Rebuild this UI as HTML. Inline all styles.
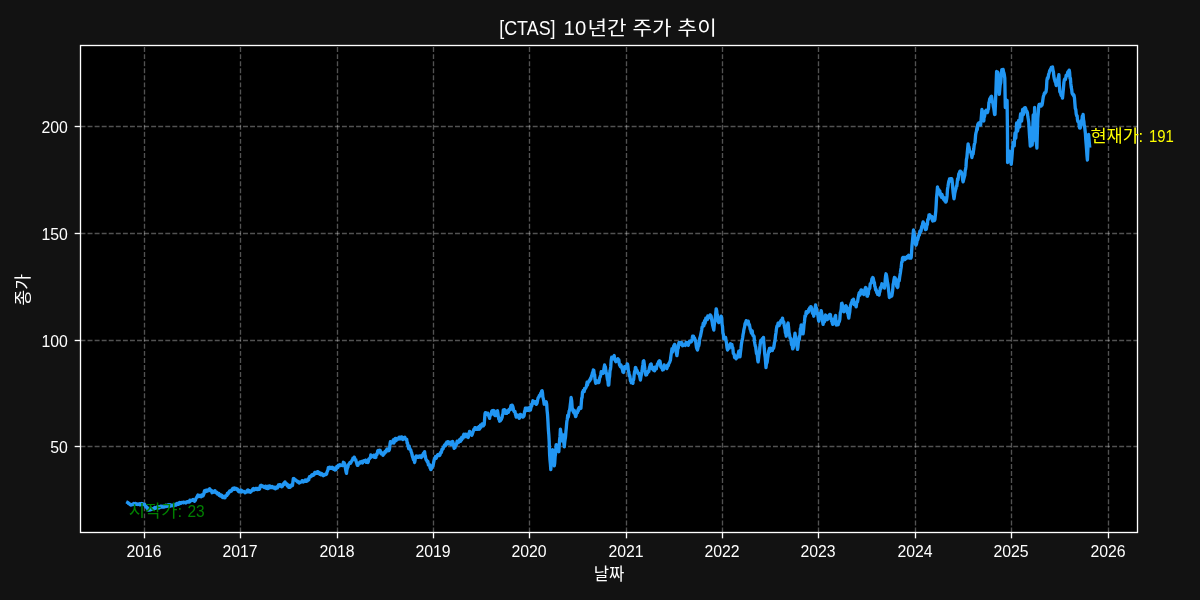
<!DOCTYPE html>
<html lang="ko"><head><meta charset="utf-8"><title>[CTAS] 10년간 주가 추이</title>
<style>html,body{margin:0;padding:0;background:#121212;overflow:hidden}svg{display:block}text{font-family:"Liberation Sans","Noto Sans CJK KR",sans-serif;}</style>
</head><body>
<svg width="1200" height="600" viewBox="0 0 1200 600">
<rect x="0" y="0" width="1200" height="600" fill="#121212"/>
<rect x="80.5" y="45.5" width="1057.0" height="487.0" fill="#000"/>
<g stroke="#fff" stroke-opacity="0.32" stroke-width="1.333" stroke-dasharray="4.933 2.133" fill="none">
<line x1="144.50" y1="532.5" x2="144.50" y2="45.5"/>
<line x1="240.50" y1="532.5" x2="240.50" y2="45.5"/>
<line x1="337.50" y1="532.5" x2="337.50" y2="45.5"/>
<line x1="433.50" y1="532.5" x2="433.50" y2="45.5"/>
<line x1="529.50" y1="532.5" x2="529.50" y2="45.5"/>
<line x1="626.50" y1="532.5" x2="626.50" y2="45.5"/>
<line x1="722.50" y1="532.5" x2="722.50" y2="45.5"/>
<line x1="818.50" y1="532.5" x2="818.50" y2="45.5"/>
<line x1="915.50" y1="532.5" x2="915.50" y2="45.5"/>
<line x1="1011.50" y1="532.5" x2="1011.50" y2="45.5"/>
<line x1="1108.50" y1="532.5" x2="1108.50" y2="45.5"/>
<line x1="80.5" y1="446.50" x2="1137.5" y2="446.50"/>
<line x1="80.5" y1="340.50" x2="1137.5" y2="340.50"/>
<line x1="80.5" y1="233.50" x2="1137.5" y2="233.50"/>
<line x1="80.5" y1="126.50" x2="1137.5" y2="126.50"/>
</g>
<path d="M127.7,502.5 L128.1,502.7 L128.5,503.5 L128.8,503.4 L129.2,503.7 L129.6,503.8 L130.0,504.6 L130.4,504.4 L130.8,505.0 L131.2,504.6 L131.7,504.8 L132.1,504.4 L132.5,504.2 L132.9,504.4 L133.3,504.3 L133.7,503.5 L134.1,504.6 L134.5,504.4 L134.9,504.4 L135.3,503.5 L135.7,503.5 L136.0,503.8 L136.4,504.0 L136.8,504.4 L137.2,504.2 L137.6,504.5 L138.0,503.9 L138.4,504.4 L138.8,504.4 L139.2,504.2 L139.6,503.8 L140.0,504.9 L140.4,504.3 L140.8,504.6 L141.3,503.6 L141.7,503.5 L142.1,503.7 L142.5,503.8 L142.9,503.9 L143.3,504.5 L143.8,504.5 L144.2,504.4 L144.6,504.3 L145.0,505.0 L145.4,505.3 L145.8,506.7 L146.2,506.4 L146.7,507.4 L147.1,508.1 L147.5,507.8 L147.9,509.1 L148.3,510.2 L148.8,510.2 L149.2,509.4 L149.6,509.8 L150.0,509.7 L150.4,509.2 L150.8,509.7 L151.2,509.3 L151.6,508.5 L152.0,509.0 L152.4,509.3 L152.8,509.1 L153.1,509.1 L153.5,509.2 L153.9,508.6 L154.3,508.4 L154.7,507.6 L155.0,508.4 L155.4,507.7 L155.8,507.9 L156.2,507.6 L156.6,507.2 L156.9,507.2 L157.3,507.4 L157.7,508.1 L158.1,506.7 L158.5,506.7 L158.9,507.4 L159.2,507.9 L159.6,507.4 L160.0,507.1 L160.4,506.3 L160.8,506.2 L161.2,507.0 L161.6,506.5 L162.0,506.2 L162.4,507.1 L162.8,507.1 L163.2,506.6 L163.5,506.5 L163.9,506.5 L164.3,507.0 L164.7,506.5 L165.1,506.4 L165.5,506.3 L165.9,505.2 L166.3,506.5 L166.7,505.8 L167.1,506.2 L167.5,506.0 L167.9,504.9 L168.3,505.3 L168.7,506.0 L169.1,504.8 L169.5,505.4 L169.9,506.0 L170.3,504.8 L170.6,506.1 L171.0,505.6 L171.4,505.2 L171.8,505.4 L172.2,505.5 L172.6,505.2 L173.0,505.7 L173.4,504.8 L173.8,504.8 L174.2,505.0 L174.6,505.4 L175.0,504.7 L175.4,504.2 L175.8,504.9 L176.2,505.1 L176.6,504.0 L177.0,503.4 L177.4,503.9 L177.8,503.7 L178.1,503.5 L178.5,504.3 L178.9,502.9 L179.3,503.9 L179.7,502.5 L180.1,502.6 L180.5,503.2 L180.9,503.3 L181.3,503.1 L181.7,502.5 L182.1,502.6 L182.5,502.5 L182.9,502.5 L183.2,502.7 L183.6,502.3 L184.0,502.5 L184.4,502.6 L184.8,502.3 L185.2,502.6 L185.5,502.5 L185.9,503.0 L186.3,502.3 L186.7,502.1 L187.1,501.8 L187.5,501.6 L187.9,501.7 L188.3,502.1 L188.8,501.3 L189.2,501.5 L189.6,502.0 L190.0,500.2 L190.4,500.3 L190.8,500.8 L191.2,500.7 L191.6,500.6 L192.1,500.3 L192.5,499.8 L192.9,500.2 L193.3,499.6 L193.7,500.1 L194.2,499.9 L194.6,501.3 L195.0,500.8 L195.4,500.2 L195.8,498.8 L196.2,498.2 L196.7,497.3 L197.1,496.6 L197.5,495.8 L197.9,495.1 L198.3,495.7 L198.8,496.6 L199.2,495.4 L199.6,496.1 L200.0,496.2 L200.4,496.6 L200.8,496.5 L201.2,496.8 L201.7,494.9 L202.1,495.5 L202.5,495.4 L202.9,495.9 L203.3,495.4 L203.8,494.2 L204.2,491.7 L204.6,490.6 L205.0,492.1 L205.4,490.4 L205.9,491.5 L206.3,490.1 L206.7,490.8 L207.1,490.6 L207.5,491.0 L207.9,489.8 L208.4,489.8 L208.8,489.8 L209.2,489.1 L209.6,488.8 L210.0,489.2 L210.4,490.7 L210.9,490.9 L211.3,490.6 L211.7,491.2 L212.1,492.7 L212.5,492.1 L212.9,491.2 L213.3,492.2 L213.8,491.3 L214.2,491.3 L214.6,491.5 L215.0,490.8 L215.4,491.6 L215.8,492.6 L216.2,492.9 L216.7,492.2 L217.1,492.5 L217.5,494.0 L217.9,493.3 L218.3,493.5 L218.8,493.4 L219.2,495.3 L219.6,495.2 L220.0,495.0 L220.4,496.1 L220.8,494.9 L221.2,495.6 L221.5,495.2 L221.9,496.5 L222.3,497.2 L222.7,496.0 L223.1,497.6 L223.4,497.4 L223.8,497.0 L224.2,496.4 L224.6,497.5 L225.0,497.8 L225.4,496.5 L225.8,495.7 L226.1,495.8 L226.5,495.3 L226.9,495.5 L227.3,493.5 L227.7,494.3 L228.0,494.0 L228.4,493.5 L228.8,492.1 L229.2,491.7 L229.6,491.0 L230.0,491.8 L230.4,490.9 L230.9,490.6 L231.3,491.2 L231.7,490.0 L232.1,489.6 L232.5,488.6 L232.9,489.1 L233.3,488.1 L233.8,489.5 L234.2,488.9 L234.6,488.1 L235.0,488.3 L235.4,488.4 L235.8,489.0 L236.3,488.6 L236.7,489.4 L237.1,488.8 L237.5,489.2 L237.9,490.4 L238.3,491.2 L238.8,490.8 L239.2,491.9 L239.6,490.5 L240.0,491.6 L240.4,490.1 L240.8,490.5 L241.2,490.3 L241.6,492.0 L242.1,490.7 L242.5,491.5 L242.9,491.5 L243.3,491.7 L243.7,491.7 L244.1,491.5 L244.6,492.0 L245.0,492.8 L245.4,492.1 L245.8,492.1 L246.2,492.0 L246.7,491.9 L247.1,490.7 L247.5,490.4 L247.9,489.9 L248.3,490.6 L248.8,491.9 L249.2,490.5 L249.6,491.4 L250.0,492.1 L250.4,492.3 L250.8,491.8 L251.2,490.9 L251.7,490.9 L252.1,490.1 L252.5,489.6 L252.9,488.8 L253.3,488.5 L253.6,489.1 L254.0,490.0 L254.4,489.1 L254.8,488.8 L255.2,488.9 L255.6,488.5 L255.9,489.2 L256.3,488.5 L256.7,489.2 L257.1,489.4 L257.5,488.5 L257.9,489.4 L258.4,488.8 L258.8,488.5 L259.2,489.2 L259.6,488.8 L260.0,487.3 L260.4,485.6 L260.8,485.8 L261.2,485.3 L261.6,486.1 L262.1,485.7 L262.5,486.6 L262.9,486.7 L263.3,486.2 L263.7,486.8 L264.1,486.8 L264.4,487.6 L264.8,487.3 L265.2,487.3 L265.6,486.1 L266.0,487.9 L266.4,488.3 L266.7,487.4 L267.1,487.4 L267.5,487.9 L267.9,488.6 L268.3,486.3 L268.8,487.4 L269.2,487.9 L269.6,485.9 L270.0,486.2 L270.4,486.8 L270.8,487.6 L271.2,486.6 L271.5,487.2 L271.9,487.5 L272.3,486.5 L272.7,487.1 L273.1,487.5 L273.5,488.0 L273.9,487.6 L274.3,487.6 L274.6,487.2 L275.0,487.8 L275.4,488.7 L275.8,488.3 L276.2,488.0 L276.6,487.1 L276.9,486.7 L277.3,488.0 L277.7,487.4 L278.1,486.7 L278.5,484.9 L278.9,486.0 L279.2,485.6 L279.6,486.0 L280.0,484.6 L280.4,485.4 L280.9,485.6 L281.3,486.5 L281.7,486.7 L282.1,485.0 L282.5,486.2 L282.9,485.1 L283.4,483.8 L283.8,484.6 L284.2,484.2 L284.6,482.5 L285.0,481.9 L285.4,482.7 L285.8,483.8 L286.1,484.0 L286.5,484.0 L286.9,483.9 L287.3,486.0 L287.7,486.0 L288.1,484.8 L288.4,485.1 L288.8,487.4 L289.2,486.7 L289.6,487.2 L290.0,487.4 L290.4,486.8 L290.9,485.5 L291.3,486.1 L291.7,484.7 L292.1,485.1 L292.5,485.4 L292.9,482.0 L293.3,478.8 L293.7,479.3 L294.1,478.6 L294.6,479.3 L295.0,479.9 L295.4,480.1 L295.8,480.0 L296.2,480.8 L296.6,480.9 L297.1,480.9 L297.5,482.0 L297.9,481.8 L298.4,481.6 L298.8,482.1 L299.2,482.9 L299.6,482.7 L300.0,482.4 L300.4,482.4 L300.9,482.1 L301.3,482.0 L301.7,481.6 L302.1,480.6 L302.5,481.2 L302.9,481.5 L303.3,481.9 L303.7,481.5 L304.0,481.0 L304.4,481.4 L304.8,480.3 L305.2,480.1 L305.6,481.0 L306.0,480.3 L306.3,481.4 L306.7,480.1 L307.1,480.1 L307.5,480.8 L307.9,479.2 L308.3,479.2 L308.7,479.9 L309.1,477.9 L309.6,476.6 L310.0,476.5 L310.4,477.0 L310.9,476.4 L311.3,475.7 L311.7,475.0 L312.1,475.7 L312.5,475.1 L312.9,474.4 L313.2,474.6 L313.6,475.2 L314.0,474.5 L314.4,474.4 L314.8,472.5 L315.2,473.0 L315.6,473.5 L316.0,472.5 L316.3,473.4 L316.7,472.8 L317.1,472.9 L317.5,471.7 L317.9,471.7 L318.3,473.3 L318.7,473.3 L319.0,472.4 L319.4,472.9 L319.8,474.4 L320.2,473.1 L320.6,474.3 L321.0,474.7 L321.4,474.2 L321.7,473.5 L322.1,474.9 L322.5,475.0 L322.9,475.2 L323.3,475.7 L323.6,475.3 L324.0,474.6 L324.4,475.1 L324.8,474.7 L325.2,474.4 L325.6,474.1 L325.9,473.8 L326.3,474.4 L326.7,473.8 L327.1,471.7 L327.5,470.9 L327.9,470.2 L328.3,467.8 L328.8,467.9 L329.2,467.5 L329.6,467.2 L330.0,467.3 L330.4,468.4 L330.8,468.4 L331.2,467.9 L331.6,467.7 L332.1,467.2 L332.5,468.6 L332.9,468.3 L333.3,467.9 L333.7,469.4 L334.1,468.2 L334.6,469.3 L335.0,470.0 L335.4,468.2 L335.8,469.7 L336.2,469.3 L336.7,466.7 L337.1,467.5 L337.5,467.1 L337.9,467.4 L338.3,465.3 L338.7,465.1 L339.1,465.3 L339.6,465.5 L340.0,464.7 L340.4,465.6 L340.8,465.4 L341.2,465.3 L341.6,465.3 L342.1,465.1 L342.5,465.5 L342.9,464.9 L343.4,462.3 L343.8,462.8 L344.2,462.9 L344.6,463.7 L345.0,465.4 L345.4,468.0 L345.7,469.8 L346.1,472.0 L346.5,473.3 L346.9,469.9 L347.4,468.1 L347.9,467.1 L348.3,465.0 L348.7,464.4 L349.1,463.8 L349.6,463.5 L350.0,462.4 L350.4,463.3 L350.9,462.5 L351.3,461.6 L351.7,461.2 L352.1,460.1 L352.5,460.1 L352.9,458.3 L353.4,458.4 L353.8,458.9 L354.2,457.2 L354.6,457.9 L355.0,459.2 L355.4,460.2 L355.8,459.8 L356.3,462.0 L356.7,463.0 L357.1,464.7 L357.5,465.4 L357.9,465.4 L358.3,464.3 L358.8,463.0 L359.2,463.1 L359.6,462.6 L360.0,462.1 L360.4,462.9 L360.8,462.6 L361.2,461.8 L361.7,461.4 L362.1,462.4 L362.5,462.9 L362.9,461.8 L363.3,461.1 L363.8,461.5 L364.2,460.8 L364.6,460.9 L365.0,460.4 L365.4,461.0 L365.8,460.3 L366.2,462.4 L366.6,460.8 L367.1,462.2 L367.5,461.5 L367.9,462.4 L368.3,461.7 L368.7,459.1 L369.1,458.8 L369.6,458.6 L370.0,457.8 L370.4,457.7 L370.8,455.0 L371.2,455.5 L371.6,456.5 L371.9,456.2 L372.3,456.5 L372.7,456.2 L373.1,455.7 L373.5,456.5 L373.9,455.1 L374.2,457.4 L374.6,455.4 L375.0,456.8 L375.4,456.7 L375.8,457.4 L376.2,454.7 L376.6,454.0 L377.1,454.3 L377.5,452.2 L377.9,450.5 L378.3,450.4 L378.7,450.8 L379.1,451.3 L379.6,451.6 L380.0,450.3 L380.4,451.2 L380.8,453.4 L381.2,453.8 L381.6,452.7 L382.1,453.4 L382.5,453.2 L382.9,455.3 L383.3,454.6 L383.7,453.3 L384.1,454.0 L384.6,452.2 L385.0,451.4 L385.4,452.2 L385.9,452.2 L386.3,450.2 L386.7,449.6 L387.1,449.0 L387.5,450.6 L387.9,449.7 L388.4,450.2 L388.8,450.7 L389.2,450.0 L389.6,448.4 L390.0,443.9 L390.4,441.7 L390.8,443.2 L391.2,442.0 L391.7,443.1 L392.1,441.6 L392.5,442.5 L392.9,442.0 L393.3,439.9 L393.8,443.0 L394.2,442.4 L394.6,439.3 L395.0,440.0 L395.4,438.5 L395.8,438.5 L396.2,440.7 L396.6,439.1 L397.1,439.4 L397.5,439.0 L397.9,439.2 L398.3,439.2 L398.7,437.8 L399.1,438.9 L399.4,437.1 L399.8,438.5 L400.2,438.8 L400.6,438.8 L401.0,437.9 L401.4,436.9 L401.7,438.0 L402.1,437.1 L402.5,437.5 L402.9,439.5 L403.3,438.7 L403.6,437.8 L404.0,437.6 L404.4,437.5 L404.8,437.3 L405.2,438.2 L405.6,439.1 L405.9,439.5 L406.3,439.7 L406.7,439.2 L407.1,443.2 L407.5,442.8 L407.9,445.8 L408.3,446.4 L408.7,448.7 L409.1,445.9 L409.6,447.7 L410.0,449.0 L410.4,449.6 L410.8,450.0 L411.2,452.1 L411.7,453.1 L412.1,455.0 L412.5,456.6 L412.9,457.6 L413.4,459.5 L413.8,458.5 L414.2,460.4 L414.6,462.5 L415.0,460.6 L415.4,457.7 L415.8,456.7 L416.2,456.0 L416.6,457.3 L417.0,456.1 L417.4,457.3 L417.8,457.4 L418.2,457.0 L418.6,457.2 L418.9,456.6 L419.3,456.0 L419.7,456.7 L420.1,457.1 L420.5,456.2 L420.9,456.6 L421.3,457.4 L421.7,456.7 L422.1,455.1 L422.5,455.9 L422.9,456.1 L423.4,453.3 L423.8,453.3 L424.2,452.3 L424.6,451.7 L425.0,455.3 L425.4,456.2 L425.8,458.8 L426.2,460.0 L426.7,460.1 L427.1,461.4 L427.5,462.1 L427.9,461.4 L428.4,464.9 L428.8,465.1 L429.2,465.0 L429.6,464.8 L430.0,467.9 L430.4,468.3 L430.8,469.6 L431.2,469.1 L431.6,468.1 L432.1,465.6 L432.5,465.8 L432.9,466.4 L433.3,464.2 L433.7,462.2 L434.1,460.3 L434.6,458.5 L435.0,458.3 L435.4,456.6 L435.8,457.5 L436.2,458.2 L436.7,456.5 L437.1,455.8 L437.5,455.0 L437.9,455.7 L438.3,454.5 L438.8,454.3 L439.2,455.5 L439.6,455.5 L440.0,455.0 L440.4,453.2 L440.8,452.2 L441.1,452.8 L441.5,451.9 L441.9,449.5 L442.3,449.8 L442.7,448.6 L443.1,448.8 L443.4,447.3 L443.8,446.5 L444.2,445.8 L444.6,445.0 L445.0,446.0 L445.4,445.9 L445.8,443.6 L446.3,444.5 L446.7,442.2 L447.1,442.7 L447.5,443.0 L447.9,441.7 L448.3,443.8 L448.7,442.1 L449.1,442.9 L449.6,443.6 L450.0,442.1 L450.4,444.2 L450.8,444.6 L451.2,443.4 L451.6,444.0 L452.1,441.9 L452.5,441.4 L452.9,442.1 L453.3,444.2 L453.8,446.5 L454.2,448.3 L454.6,446.9 L455.0,447.6 L455.4,445.5 L455.9,444.3 L456.3,444.7 L456.7,443.3 L457.1,441.2 L457.5,441.7 L457.9,442.0 L458.3,442.6 L458.8,441.1 L459.2,441.2 L459.6,439.7 L460.0,440.4 L460.4,441.4 L460.8,439.2 L461.2,438.0 L461.6,439.9 L462.0,437.3 L462.3,437.7 L462.7,437.5 L463.1,438.1 L463.5,435.1 L463.9,434.2 L464.3,436.5 L464.6,436.3 L465.0,435.7 L465.4,436.5 L465.8,434.2 L466.2,434.9 L466.6,435.5 L467.1,436.8 L467.5,436.6 L467.9,436.7 L468.3,437.4 L468.7,433.4 L469.2,433.5 L469.6,431.4 L470.0,432.1 L470.4,433.6 L470.8,432.7 L471.3,434.7 L471.7,435.3 L472.1,434.6 L472.5,433.6 L472.9,432.3 L473.3,431.0 L473.8,429.6 L474.2,428.9 L474.6,429.5 L475.0,427.7 L475.4,427.9 L475.8,428.0 L476.2,427.9 L476.6,429.4 L477.1,429.0 L477.5,428.3 L477.9,429.4 L478.3,428.8 L478.7,428.1 L479.1,426.4 L479.6,429.2 L480.0,427.5 L480.4,425.2 L480.9,427.3 L481.3,425.9 L481.7,425.0 L482.1,423.9 L482.5,425.7 L482.9,425.2 L483.4,425.7 L483.8,424.9 L484.2,424.6 L484.6,419.0 L485.0,413.8 L485.4,412.6 L485.8,414.4 L486.2,413.6 L486.7,413.1 L487.1,413.9 L487.5,413.5 L487.9,413.3 L488.3,415.4 L488.8,415.3 L489.2,417.0 L489.6,418.3 L490.0,414.8 L490.4,414.9 L490.9,414.9 L491.3,414.4 L491.7,411.2 L492.1,410.7 L492.5,410.9 L492.9,411.9 L493.4,410.5 L493.8,411.8 L494.2,410.8 L494.6,415.2 L495.0,415.4 L495.4,414.7 L495.8,415.5 L496.2,412.2 L496.7,412.6 L497.1,411.5 L497.5,410.8 L497.9,413.0 L498.3,416.4 L498.8,419.1 L499.2,418.3 L499.6,421.2 L500.0,419.9 L500.4,420.7 L500.9,418.1 L501.3,419.5 L501.7,418.3 L502.1,417.5 L502.5,414.8 L502.9,414.3 L503.3,410.0 L503.8,410.4 L504.2,412.0 L504.6,409.7 L505.0,411.2 L505.4,412.0 L505.8,413.3 L506.2,412.3 L506.6,413.4 L507.1,411.9 L507.5,410.7 L507.9,411.4 L508.4,412.3 L508.8,409.7 L509.2,409.2 L509.6,409.3 L510.0,409.9 L510.4,408.3 L510.9,405.8 L511.3,409.2 L511.7,408.7 L512.1,405.1 L512.5,405.8 L512.9,406.9 L513.3,408.7 L513.7,410.7 L514.1,411.5 L514.6,411.4 L515.0,411.6 L515.4,414.3 L515.8,415.4 L516.2,417.1 L516.6,414.7 L517.1,415.2 L517.5,416.8 L517.9,415.1 L518.4,417.2 L518.8,417.4 L519.2,418.3 L519.6,418.0 L520.0,415.5 L520.4,414.4 L520.8,414.6 L521.2,414.6 L521.6,415.5 L522.1,415.2 L522.5,416.6 L522.9,417.1 L523.3,416.9 L523.7,416.3 L524.1,415.6 L524.6,411.3 L525.0,410.6 L525.4,408.1 L525.8,408.8 L526.2,410.7 L526.6,408.2 L527.0,409.3 L527.5,410.3 L527.9,408.1 L528.3,410.0 L528.7,410.3 L529.1,409.4 L529.5,407.6 L530.0,409.2 L530.4,410.1 L530.8,408.3 L531.2,404.7 L531.6,406.3 L532.1,404.1 L532.5,402.9 L532.9,400.8 L533.3,401.7 L533.7,403.1 L534.0,401.4 L534.4,403.1 L534.8,401.7 L535.2,403.5 L535.6,401.8 L535.9,403.0 L536.3,404.4 L536.7,403.8 L537.1,403.0 L537.5,400.9 L538.0,398.3 L538.4,397.4 L538.8,397.4 L539.2,395.8 L539.6,396.3 L540.0,394.9 L540.4,394.3 L540.9,392.9 L541.3,394.0 L541.7,391.0 L542.1,390.8 L542.5,392.8 L542.9,397.3 L543.4,398.9 L543.8,401.2 L544.2,404.2 L544.6,403.0 L545.0,402.9 L545.4,403.5 L545.8,402.7 L546.2,401.7 L546.7,404.3 L547.1,410.6 L547.5,414.2 L548.0,422.3 L548.4,430.0 L548.8,434.7 L549.2,441.7 L549.6,454.2 L550.0,460.1 L550.4,464.2 L550.8,469.6 L551.2,464.3 L551.6,460.3 L552.1,455.9 L552.5,449.6 L553.0,453.0 L553.4,458.1 L553.8,460.9 L554.3,465.8 L554.7,463.0 L555.1,456.8 L555.5,454.3 L555.9,448.2 L556.2,444.6 L556.7,446.7 L557.1,448.7 L557.5,446.5 L557.9,448.9 L558.3,451.0 L558.8,451.7 L559.2,446.0 L559.6,439.7 L560.0,436.7 L560.4,429.2 L560.9,433.2 L561.3,435.1 L561.8,440.8 L562.3,439.8 L562.7,435.1 L563.2,435.0 L563.8,442.2 L564.3,446.8 L564.7,442.4 L565.1,439.4 L565.5,437.0 L565.9,431.9 L566.3,428.0 L566.8,421.8 L567.3,419.2 L567.7,415.4 L568.2,417.3 L568.6,414.9 L569.1,411.2 L569.5,410.5 L569.9,408.4 L570.3,404.6 L570.7,401.6 L571.1,397.5 L571.7,400.8 L572.2,408.3 L572.6,408.8 L573.0,411.2 L573.5,411.8 L573.9,412.8 L574.3,410.4 L574.7,413.6 L575.2,414.9 L575.6,416.6 L576.0,415.9 L576.4,413.6 L576.8,413.3 L577.2,412.7 L577.5,412.7 L577.9,409.9 L578.3,410.9 L578.7,408.3 L579.1,407.6 L579.6,408.6 L580.0,407.6 L580.5,408.5 L580.9,408.3 L581.3,403.4 L581.7,398.1 L582.1,397.6 L582.5,392.1 L582.9,392.0 L583.3,390.4 L583.8,390.9 L584.2,391.5 L584.6,388.5 L585.0,389.2 L585.4,388.1 L585.8,388.0 L586.2,387.0 L586.7,384.9 L587.1,382.3 L587.5,385.1 L587.9,382.5 L588.3,382.5 L588.7,381.6 L589.1,380.7 L589.6,381.0 L590.0,379.6 L590.4,378.5 L590.8,379.2 L591.2,377.0 L591.6,375.9 L592.1,374.6 L592.5,372.7 L592.9,373.7 L593.3,370.0 L593.8,370.4 L594.2,374.1 L594.6,374.7 L595.0,379.3 L595.4,381.7 L595.8,383.2 L596.2,382.2 L596.7,381.0 L597.1,382.2 L597.5,382.4 L597.9,381.0 L598.3,381.6 L598.8,382.5 L599.2,380.9 L599.6,378.3 L600.0,377.2 L600.4,376.3 L600.8,374.5 L601.2,371.7 L601.7,373.2 L602.1,373.1 L602.5,372.3 L602.9,373.0 L603.3,373.3 L603.7,370.2 L604.2,367.4 L604.6,365.0 L605.0,366.8 L605.4,366.9 L605.8,370.6 L606.3,373.0 L606.7,373.7 L607.1,377.0 L607.5,379.7 L607.9,380.8 L608.3,385.1 L608.8,385.0 L609.2,378.8 L609.6,376.4 L610.0,370.4 L610.4,369.6 L610.8,366.2 L611.2,360.0 L611.7,357.3 L612.1,358.9 L612.5,358.8 L612.9,357.1 L613.3,357.6 L613.8,356.2 L614.2,355.6 L614.6,359.5 L615.0,360.0 L615.4,360.6 L615.8,361.7 L616.2,360.3 L616.6,361.3 L617.1,359.3 L617.5,359.6 L617.9,358.8 L618.3,359.6 L618.8,359.8 L619.2,363.4 L619.6,365.0 L620.0,365.6 L620.4,366.7 L620.9,364.9 L621.3,366.3 L621.7,366.7 L622.1,368.8 L622.5,369.4 L622.9,372.1 L623.3,371.7 L623.7,372.4 L624.1,368.5 L624.6,366.6 L625.0,368.8 L625.4,366.7 L625.8,367.4 L626.2,366.9 L626.7,366.3 L627.1,363.9 L627.5,364.2 L627.9,366.2 L628.4,371.2 L628.8,371.7 L629.2,375.8 L629.6,375.1 L630.0,376.6 L630.4,380.7 L630.8,380.0 L631.2,382.7 L631.6,380.4 L632.1,381.0 L632.5,382.9 L632.9,383.3 L633.3,379.7 L633.7,379.7 L634.1,375.3 L634.6,371.4 L635.0,371.8 L635.4,367.5 L635.8,367.6 L636.2,369.5 L636.7,370.0 L637.1,370.5 L637.5,371.7 L637.9,373.3 L638.3,373.2 L638.7,373.2 L639.2,374.4 L639.6,376.0 L640.0,377.8 L640.4,380.0 L640.8,377.6 L641.2,375.3 L641.7,373.5 L642.1,370.6 L642.5,367.0 L642.9,364.7 L643.3,361.1 L643.8,360.8 L644.2,363.4 L644.6,367.1 L645.0,370.0 L645.4,372.0 L645.8,375.0 L646.2,374.0 L646.6,374.8 L647.1,372.8 L647.5,373.1 L647.9,372.1 L648.4,370.9 L648.8,371.6 L649.2,369.2 L649.6,367.2 L650.0,366.2 L650.4,364.4 L650.8,364.2 L651.2,363.9 L651.6,367.7 L652.1,368.5 L652.5,367.1 L652.9,368.6 L653.4,370.1 L653.8,370.3 L654.2,370.0 L654.6,370.7 L655.0,367.2 L655.4,367.4 L655.9,368.2 L656.3,368.9 L656.7,366.5 L657.1,365.8 L657.5,363.9 L657.9,363.7 L658.4,362.4 L658.8,361.4 L659.2,363.6 L659.6,360.8 L660.0,361.3 L660.4,363.5 L660.8,366.8 L661.3,367.6 L661.7,367.8 L662.1,367.9 L662.5,370.0 L662.9,369.3 L663.4,369.6 L663.8,367.1 L664.2,365.0 L664.6,367.1 L665.0,366.0 L665.4,366.9 L665.9,366.4 L666.3,367.6 L666.7,368.6 L667.1,367.9 L667.5,365.1 L667.9,366.0 L668.4,365.5 L668.8,363.6 L669.2,363.0 L669.6,362.5 L670.0,361.3 L670.4,360.2 L670.8,356.7 L671.2,354.1 L671.6,351.5 L672.0,348.7 L672.5,352.0 L672.9,349.2 L673.3,348.2 L673.7,346.0 L674.1,346.6 L674.6,344.4 L675.0,345.0 L675.5,347.7 L676.0,350.9 L676.4,353.0 L676.9,355.6 L677.4,352.8 L677.8,348.2 L678.3,348.1 L678.8,343.1 L679.1,342.4 L679.5,342.4 L679.9,343.3 L680.3,342.7 L680.7,342.5 L681.1,343.5 L681.4,344.5 L681.8,342.7 L682.2,344.2 L682.6,345.7 L683.0,345.6 L683.4,344.7 L683.8,345.0 L684.1,345.0 L684.5,344.6 L684.9,344.5 L685.3,345.4 L685.7,344.1 L686.1,342.4 L686.4,343.9 L686.8,342.7 L687.2,344.5 L687.6,342.7 L688.0,343.6 L688.4,345.3 L688.8,343.1 L689.2,341.5 L689.6,341.2 L690.0,341.2 L690.4,341.2 L690.8,341.2 L691.2,341.9 L691.7,341.1 L692.2,338.6 L692.6,336.2 L693.1,336.9 L693.5,336.2 L693.9,338.9 L694.4,337.7 L694.8,338.9 L695.2,340.4 L695.6,340.6 L696.1,344.7 L696.5,347.4 L697.0,349.0 L697.5,350.0 L697.9,348.1 L698.3,346.1 L698.8,345.8 L699.2,343.5 L699.6,339.2 L700.0,337.5 L700.4,336.3 L700.8,334.3 L701.2,332.3 L701.7,329.8 L702.1,326.9 L702.5,326.9 L702.9,325.3 L703.3,323.1 L703.8,325.8 L704.2,324.0 L704.6,320.8 L705.0,323.3 L705.4,321.7 L705.8,318.1 L706.2,318.8 L706.6,319.4 L707.0,319.2 L707.4,319.4 L707.8,316.0 L708.2,318.0 L708.6,317.6 L709.0,317.0 L709.4,316.7 L709.8,317.5 L710.2,314.9 L710.6,315.6 L711.0,315.8 L711.4,317.4 L711.8,320.3 L712.2,322.0 L712.6,325.1 L713.0,326.7 L713.4,328.2 L713.8,330.0 L714.2,325.6 L714.6,322.3 L715.0,320.6 L715.4,316.8 L715.8,312.4 L716.2,308.8 L716.7,310.6 L717.1,315.4 L717.5,314.9 L717.9,318.8 L718.3,321.7 L718.8,322.5 L719.2,321.1 L719.6,321.5 L720.0,317.9 L720.4,319.6 L720.8,317.6 L721.2,316.2 L721.7,317.9 L722.1,324.6 L722.5,326.3 L722.9,332.9 L723.3,334.1 L723.8,338.8 L724.2,338.2 L724.7,338.5 L725.1,337.4 L725.6,337.5 L726.1,341.0 L726.5,343.0 L727.0,347.7 L727.5,350.0 L727.9,349.2 L728.3,348.6 L728.8,345.4 L729.2,348.2 L729.6,345.9 L730.0,345.0 L730.5,343.7 L731.0,344.8 L731.4,345.2 L731.9,344.4 L732.4,348.1 L732.8,347.7 L733.3,353.4 L733.8,353.8 L734.2,354.4 L734.6,357.5 L735.0,356.1 L735.4,358.0 L735.8,357.4 L736.2,358.8 L736.7,356.0 L737.1,357.7 L737.5,356.2 L737.9,355.8 L738.3,353.6 L738.8,351.2 L739.2,352.4 L739.6,352.9 L740.0,356.9 L740.5,352.1 L741.0,348.2 L741.4,344.1 L741.9,341.2 L742.3,339.8 L742.7,337.3 L743.1,334.3 L743.5,332.7 L743.8,330.1 L744.2,328.4 L744.6,326.9 L745.0,323.8 L745.4,324.4 L745.8,322.0 L746.2,320.6 L746.7,323.9 L747.1,321.8 L747.5,321.2 L747.9,323.7 L748.3,321.2 L748.7,323.9 L749.0,325.4 L749.4,324.5 L749.8,326.7 L750.2,329.3 L750.6,329.4 L751.0,331.6 L751.4,333.1 L751.8,330.8 L752.2,330.9 L752.6,334.2 L753.0,335.6 L753.4,335.4 L753.8,336.0 L754.1,336.7 L754.5,341.7 L754.9,344.1 L755.3,346.1 L755.7,347.1 L756.1,350.5 L756.5,353.5 L756.9,354.1 L757.3,355.1 L757.7,360.0 L758.1,361.9 L758.5,359.1 L758.9,355.0 L759.4,352.7 L759.8,347.4 L760.2,344.6 L760.6,341.2 L761.0,340.3 L761.4,340.9 L761.8,341.7 L762.3,338.8 L762.7,340.7 L763.1,340.0 L763.5,337.5 L763.9,343.5 L764.3,348.3 L764.8,354.6 L765.2,357.3 L765.6,362.4 L766.0,367.5 L766.4,363.7 L766.8,363.3 L767.2,362.0 L767.6,358.5 L768.0,356.0 L768.4,352.8 L768.8,350.6 L769.1,350.7 L769.5,348.4 L769.9,351.3 L770.3,349.4 L770.7,348.3 L771.1,348.6 L771.5,348.4 L771.9,350.4 L772.3,350.5 L772.7,348.1 L773.1,348.8 L773.6,348.1 L774.0,346.2 L774.5,342.4 L775.0,341.2 L775.5,335.6 L776.0,332.8 L776.4,329.2 L776.9,326.2 L777.3,326.4 L777.7,325.2 L778.1,323.2 L778.5,325.3 L778.8,323.1 L779.2,325.6 L779.6,323.1 L780.0,323.8 L780.4,321.9 L780.8,320.8 L781.2,320.2 L781.7,321.7 L782.1,320.1 L782.5,318.1 L782.9,320.9 L783.3,322.5 L783.8,322.1 L784.2,325.5 L784.6,327.5 L785.0,328.9 L785.4,332.9 L785.8,333.3 L786.2,336.2 L786.7,332.0 L787.2,328.3 L787.6,324.3 L788.1,323.1 L788.6,327.6 L789.0,332.3 L789.5,334.6 L790.0,338.1 L790.4,338.1 L790.8,338.5 L791.2,342.1 L791.5,344.7 L791.9,344.7 L792.3,346.8 L792.7,348.8 L793.1,348.1 L793.6,345.8 L794.0,340.0 L794.5,338.2 L795.0,333.1 L795.4,336.8 L795.8,336.5 L796.2,340.7 L796.7,342.1 L797.1,346.5 L797.5,349.4 L797.9,347.4 L798.3,342.6 L798.8,339.2 L799.2,340.2 L799.6,336.3 L800.0,335.0 L800.4,328.7 L800.8,329.1 L801.2,325.0 L801.7,329.3 L802.2,331.5 L802.6,331.3 L803.1,333.8 L803.6,329.6 L804.0,324.5 L804.5,321.4 L805.0,315.6 L805.4,316.3 L805.8,314.3 L806.2,311.8 L806.7,313.8 L807.1,311.5 L807.5,312.3 L807.9,311.1 L808.3,312.2 L808.8,309.4 L809.2,310.1 L809.6,308.0 L810.0,308.6 L810.4,309.8 L810.8,306.6 L811.2,306.9 L811.7,309.0 L812.1,311.6 L812.5,313.2 L812.9,313.8 L813.3,313.0 L813.8,316.2 L814.2,311.8 L814.7,310.9 L815.1,308.3 L815.6,305.0 L816.0,309.1 L816.4,307.9 L816.8,312.6 L817.2,314.1 L817.6,313.1 L818.0,316.1 L818.4,319.4 L818.8,321.2 L819.2,318.8 L819.6,317.5 L820.0,316.5 L820.4,313.1 L820.8,313.0 L821.2,310.6 L821.7,313.2 L822.2,316.8 L822.6,321.6 L823.1,324.4 L823.5,322.1 L823.9,321.6 L824.4,321.8 L824.8,318.2 L825.2,316.4 L825.6,315.0 L826.1,317.1 L826.5,316.7 L827.0,319.7 L827.5,319.4 L827.9,316.9 L828.3,318.5 L828.8,316.2 L829.2,315.0 L829.6,317.3 L830.0,314.4 L830.4,314.5 L830.8,318.8 L831.2,318.8 L831.5,321.0 L831.9,319.0 L832.3,323.0 L832.7,324.4 L833.1,323.8 L833.5,322.2 L833.9,320.9 L834.4,321.8 L834.8,318.5 L835.2,316.4 L835.6,315.6 L836.2,325.0 L836.6,323.7 L837.0,324.6 L837.4,324.0 L837.8,323.4 L838.2,324.7 L838.6,321.8 L839.0,322.3 L839.4,321.2 L839.8,319.6 L840.3,312.8 L840.7,311.9 L841.2,309.0 L841.6,303.4 L842.0,303.3 L842.5,305.4 L842.9,307.2 L843.3,308.1 L843.8,311.9 L844.2,311.5 L844.6,307.9 L845.0,309.7 L845.4,310.0 L845.8,305.6 L846.2,306.2 L846.7,307.8 L847.1,308.1 L847.5,313.2 L847.9,313.2 L848.3,315.8 L848.8,318.1 L849.2,314.9 L849.7,312.3 L850.1,307.8 L850.6,305.0 L851.0,304.2 L851.4,302.6 L851.9,302.6 L852.3,300.1 L852.7,300.9 L853.1,300.0 L853.5,299.3 L853.9,301.1 L854.3,304.7 L854.7,303.6 L855.1,302.7 L855.5,305.5 L855.9,304.8 L856.2,306.9 L856.7,302.8 L857.1,302.0 L857.5,301.9 L857.9,299.5 L858.3,296.9 L858.8,295.0 L859.1,293.2 L859.5,292.5 L859.9,295.1 L860.3,293.1 L860.7,291.0 L861.1,289.9 L861.5,289.9 L861.9,290.6 L862.4,293.6 L862.8,291.0 L863.3,293.4 L863.8,294.4 L864.2,292.9 L864.7,290.7 L865.1,288.9 L865.6,287.5 L866.1,287.9 L866.5,290.5 L867.0,296.1 L867.5,296.2 L867.9,293.7 L868.3,294.2 L868.7,289.5 L869.0,289.6 L869.4,288.8 L869.8,288.2 L870.2,283.9 L870.6,283.8 L871.0,283.3 L871.5,281.8 L871.9,279.0 L872.3,279.4 L872.8,277.5 L873.2,278.1 L873.6,280.0 L874.0,282.8 L874.4,282.6 L874.8,286.3 L875.2,286.9 L875.6,290.0 L876.0,289.3 L876.4,290.5 L876.8,292.6 L877.2,291.7 L877.6,294.4 L878.0,291.8 L878.4,292.1 L878.8,294.4 L879.1,295.1 L879.5,292.3 L879.9,291.6 L880.3,288.0 L880.7,288.8 L881.1,286.8 L881.5,285.9 L881.9,283.8 L882.3,284.5 L882.7,286.8 L883.1,285.1 L883.6,285.4 L884.0,285.5 L884.4,288.1 L884.8,286.0 L885.2,280.0 L885.6,276.0 L886.0,273.8 L886.5,275.4 L887.0,279.0 L887.5,282.5 L888.0,284.6 L888.5,289.6 L888.9,292.9 L889.4,297.5 L889.8,296.5 L890.2,295.6 L890.6,296.6 L891.1,295.6 L891.5,296.1 L891.9,295.6 L892.3,292.9 L892.7,290.0 L893.1,284.5 L893.6,282.8 L894.0,279.5 L894.4,277.5 L894.8,279.8 L895.2,277.9 L895.6,280.3 L896.0,282.1 L896.3,283.3 L896.7,286.3 L897.1,285.7 L897.5,287.5 L897.9,286.7 L898.3,281.4 L898.8,279.2 L899.2,280.8 L899.6,277.6 L900.0,275.0 L900.4,272.8 L900.8,269.5 L901.2,267.2 L901.7,262.2 L902.1,262.1 L902.5,258.1 L902.9,257.5 L903.3,259.6 L903.7,258.6 L904.0,257.4 L904.4,257.4 L904.8,259.7 L905.2,258.7 L905.6,259.0 L906.0,258.0 L906.4,258.4 L906.8,257.1 L907.2,256.4 L907.6,256.8 L908.0,256.4 L908.4,257.7 L908.8,255.3 L909.2,255.7 L909.6,258.1 L910.0,258.2 L910.4,258.2 L910.8,258.2 L911.2,257.5 L912.0,245.6 L912.5,240.6 L913.0,235.4 L913.5,230.0 L913.9,232.3 L914.3,234.0 L914.8,237.4 L915.2,239.2 L915.6,244.6 L916.0,245.0 L916.4,244.4 L916.9,241.9 L917.3,239.2 L917.7,239.9 L918.1,238.2 L918.5,236.1 L919.0,234.8 L919.4,235.0 L919.8,231.5 L920.2,232.8 L920.6,230.5 L921.0,231.3 L921.5,227.7 L921.9,226.1 L922.3,226.7 L922.7,223.5 L923.1,221.9 L923.5,223.1 L923.9,223.3 L924.3,223.9 L924.7,227.6 L925.1,227.9 L925.5,229.6 L925.9,228.0 L926.2,229.4 L926.6,227.4 L927.0,224.1 L927.4,224.5 L927.8,219.4 L928.2,219.8 L928.6,218.5 L929.0,215.0 L929.5,217.3 L929.9,214.8 L930.4,217.9 L930.8,216.1 L931.2,217.5 L931.6,216.9 L932.0,216.8 L932.4,220.2 L932.8,221.1 L933.2,218.7 L933.6,218.8 L934.0,219.8 L934.4,220.6 L934.9,219.5 L935.3,215.5 L935.8,211.0 L936.2,204.3 L936.6,196.9 L937.1,192.1 L937.5,186.9 L937.9,189.5 L938.3,191.0 L938.7,189.6 L939.0,190.1 L939.4,191.3 L939.8,190.9 L940.2,195.2 L940.6,195.0 L941.0,194.3 L941.4,197.3 L941.8,194.3 L942.2,195.2 L942.6,197.7 L943.0,196.8 L943.4,199.3 L943.8,198.7 L944.2,197.7 L944.6,200.5 L945.0,201.2 L945.4,198.5 L945.8,202.2 L946.2,201.5 L946.7,198.8 L947.1,195.7 L947.5,189.3 L947.9,187.1 L948.3,184.2 L948.8,181.2 L949.1,181.9 L949.5,178.9 L949.9,179.4 L950.3,178.7 L950.7,179.8 L951.1,180.3 L951.5,178.7 L951.9,179.4 L952.3,182.5 L952.7,187.8 L953.2,193.1 L953.6,195.7 L954.0,198.8 L954.4,196.3 L954.8,193.1 L955.2,191.3 L955.6,189.6 L956.0,188.5 L956.4,186.2 L956.8,186.2 L957.2,182.5 L957.6,178.6 L958.0,179.9 L958.4,177.1 L958.8,173.8 L959.2,173.6 L959.6,172.2 L960.0,171.2 L960.4,171.2 L960.8,173.4 L961.2,171.9 L961.7,173.4 L962.2,175.2 L962.6,179.7 L963.1,181.9 L963.5,180.1 L963.9,178.5 L964.4,176.5 L964.8,175.4 L965.2,170.4 L965.6,169.4 L966.0,166.4 L966.4,159.6 L966.9,157.5 L967.3,152.5 L967.7,148.3 L968.1,143.8 L968.5,146.5 L968.9,146.8 L969.4,149.8 L969.8,151.0 L970.2,151.6 L970.6,152.2 L971.1,153.5 L971.5,155.3 L971.9,157.5 L972.3,155.4 L972.7,153.7 L973.1,154.0 L973.5,150.8 L973.8,149.1 L974.2,145.1 L974.6,143.5 L975.0,142.5 L975.6,135.0 L976.0,132.7 L976.4,131.5 L976.9,128.0 L977.3,129.6 L977.7,124.9 L978.1,123.8 L978.5,125.4 L978.9,123.0 L979.4,124.4 L979.8,124.9 L980.2,125.0 L980.6,125.0 L981.0,120.6 L981.5,115.0 L981.9,109.5 L982.4,112.6 L982.8,113.2 L983.3,117.2 L983.8,121.0 L984.1,116.4 L984.5,116.8 L984.9,113.9 L985.3,111.0 L985.7,110.9 L986.1,110.3 L986.5,110.7 L986.9,112.7 L987.3,112.7 L987.7,112.0 L988.1,109.5 L988.5,108.8 L988.9,102.6 L989.2,102.2 L989.7,98.9 L990.1,99.2 L990.6,97.5 L991.0,96.7 L991.5,96.2 L991.9,98.5 L992.3,102.3 L992.7,101.4 L993.1,104.4 L993.4,106.7 L993.8,108.3 L994.2,111.6 L994.6,114.5 L995.0,114.4 L995.7,96.7 L996.2,82.5 L996.6,71.5 L997.1,72.1 L997.5,72.0 L998.0,72.8 L998.4,80.5 L998.9,85.2 L999.3,94.4 L999.8,88.5 L1000.2,84.7 L1000.7,82.9 L1001.2,76.9 L1001.8,69.6 L1002.2,70.5 L1002.6,71.0 L1003.1,69.4 L1003.5,71.7 L1003.9,72.8 L1004.3,74.6 L1004.8,78.3 L1005.3,107.5 L1005.8,103.9 L1006.2,102.8 L1006.6,103.2 L1007.1,100.5 L1007.5,135.0 L1007.6,162.5 L1008.0,160.4 L1008.5,156.8 L1009.0,154.7 L1009.4,151.2 L1009.9,153.8 L1010.3,157.9 L1010.8,161.2 L1011.2,164.4 L1011.7,159.6 L1012.2,153.4 L1012.6,147.8 L1013.1,142.5 L1013.7,144.1 L1014.2,146.0 L1014.6,138.7 L1015.0,133.0 L1015.4,137.6 L1015.8,138.0 L1016.2,131.2 L1016.6,123.0 L1017.1,127.6 L1017.6,131.0 L1018.1,127.8 L1018.6,120.5 L1019.1,125.6 L1019.6,127.0 L1020.1,118.5 L1020.6,114.0 L1021.1,118.4 L1021.6,121.0 L1022.1,116.3 L1022.6,109.5 L1023.0,114.1 L1023.4,114.5 L1023.9,113.0 L1024.4,108.0 L1024.8,109.5 L1025.2,107.6 L1025.7,108.5 L1026.1,110.5 L1026.5,111.4 L1026.9,111.2 L1027.4,112.7 L1027.8,116.4 L1028.3,119.2 L1028.8,122.5 L1029.1,128.5 L1029.5,134.8 L1029.9,139.9 L1030.3,146.2 L1030.8,135.5 L1031.3,128.0 L1031.8,138.1 L1032.2,145.0 L1032.7,132.1 L1033.2,115.0 L1033.9,140.0 L1034.6,107.5 L1035.1,121.1 L1035.6,135.0 L1036.0,140.7 L1036.5,144.2 L1036.9,148.0 L1037.3,133.9 L1037.8,118.0 L1038.3,112.4 L1038.8,105.5 L1039.2,104.4 L1039.6,106.1 L1040.0,106.2 L1040.3,104.3 L1040.7,106.2 L1041.1,106.2 L1041.5,105.0 L1042.0,105.1 L1042.4,103.2 L1042.8,100.1 L1043.3,96.8 L1043.8,95.3 L1044.2,93.8 L1044.7,92.8 L1045.1,93.3 L1045.5,92.4 L1046.0,91.7 L1046.5,88.0 L1046.9,80.4 L1047.4,77.9 L1047.8,78.6 L1048.2,77.5 L1048.6,74.2 L1048.9,73.9 L1049.3,72.4 L1049.7,70.6 L1050.1,70.4 L1050.5,69.3 L1050.9,68.9 L1051.3,67.4 L1051.7,68.2 L1052.1,67.4 L1052.5,66.9 L1053.0,70.3 L1053.4,71.7 L1053.8,75.9 L1054.3,78.8 L1054.7,79.9 L1055.1,81.7 L1055.4,80.6 L1055.8,83.6 L1056.2,85.5 L1056.6,85.2 L1057.0,84.3 L1057.4,81.3 L1057.8,79.3 L1058.1,77.9 L1058.5,77.4 L1058.9,74.7 L1059.3,85.2 L1059.8,91.7 L1060.2,92.4 L1060.6,92.7 L1061.0,94.9 L1061.3,95.6 L1061.7,95.1 L1062.1,96.2 L1062.5,98.1 L1063.0,92.8 L1063.4,88.6 L1063.9,82.5 L1064.4,79.8 L1064.8,78.9 L1065.3,79.7 L1065.8,77.9 L1066.1,75.4 L1066.5,76.3 L1066.9,75.8 L1067.3,74.3 L1067.7,72.2 L1068.0,72.6 L1068.4,71.4 L1068.8,71.4 L1069.2,70.1 L1069.6,72.4 L1070.0,78.3 L1070.4,78.2 L1070.8,83.5 L1071.2,87.1 L1071.7,89.5 L1072.1,93.2 L1072.6,94.4 L1073.1,93.9 L1073.5,95.7 L1074.0,95.3 L1074.5,98.3 L1074.9,103.6 L1075.3,108.5 L1075.8,109.5 L1076.2,113.8 L1076.7,115.9 L1077.1,115.7 L1077.5,119.8 L1077.9,121.7 L1078.3,121.8 L1078.8,121.8 L1079.2,125.4 L1079.6,128.0 L1080.0,128.1 L1080.4,127.8 L1080.8,125.7 L1081.2,120.9 L1081.5,120.4 L1081.9,121.4 L1082.3,116.2 L1082.7,117.6 L1083.1,114.4 L1083.5,119.6 L1083.9,121.6 L1084.2,125.2 L1084.6,126.4 L1085.0,130.0 L1085.4,133.4 L1085.8,139.9 L1086.2,144.7 L1086.6,149.9 L1087.0,155.9 L1087.4,160.0 L1087.8,151.3 L1088.2,143.2 L1088.6,134.5 L1089.1,140.8 L1089.6,146.0" fill="none" stroke="#2196f3" stroke-width="3.33" stroke-linejoin="round" stroke-linecap="square"/>
<rect x="80.5" y="45.5" width="1057.0" height="487.0" fill="none" stroke="#fff" stroke-width="1.333"/>
<g stroke="#fff" stroke-width="1.333">
<line x1="144.50" y1="532.5" x2="144.50" y2="538.33"/>
<line x1="240.50" y1="532.5" x2="240.50" y2="538.33"/>
<line x1="337.50" y1="532.5" x2="337.50" y2="538.33"/>
<line x1="433.50" y1="532.5" x2="433.50" y2="538.33"/>
<line x1="529.50" y1="532.5" x2="529.50" y2="538.33"/>
<line x1="626.50" y1="532.5" x2="626.50" y2="538.33"/>
<line x1="722.50" y1="532.5" x2="722.50" y2="538.33"/>
<line x1="818.50" y1="532.5" x2="818.50" y2="538.33"/>
<line x1="915.50" y1="532.5" x2="915.50" y2="538.33"/>
<line x1="1011.50" y1="532.5" x2="1011.50" y2="538.33"/>
<line x1="1108.50" y1="532.5" x2="1108.50" y2="538.33"/>
<line x1="80.5" y1="446.50" x2="74.67" y2="446.50"/>
<line x1="80.5" y1="340.50" x2="74.67" y2="340.50"/>
<line x1="80.5" y1="233.50" x2="74.67" y2="233.50"/>
<line x1="80.5" y1="126.50" x2="74.67" y2="126.50"/>
</g>
<g opacity="0.999">
<g fill="#fff" font-size="16.67px">
<text transform="translate(144.00,557) scale(0.949,1)" text-anchor="middle">2016</text>
<text transform="translate(240.00,557) scale(0.949,1)" text-anchor="middle">2017</text>
<text transform="translate(337.00,557) scale(0.949,1)" text-anchor="middle">2018</text>
<text transform="translate(433.00,557) scale(0.949,1)" text-anchor="middle">2019</text>
<text transform="translate(529.00,557) scale(0.949,1)" text-anchor="middle">2020</text>
<text transform="translate(626.00,557) scale(0.949,1)" text-anchor="middle">2021</text>
<text transform="translate(722.00,557) scale(0.949,1)" text-anchor="middle">2022</text>
<text transform="translate(818.00,557) scale(0.949,1)" text-anchor="middle">2023</text>
<text transform="translate(915.00,557) scale(0.949,1)" text-anchor="middle">2024</text>
<text transform="translate(1011.00,557) scale(0.949,1)" text-anchor="middle">2025</text>
<text transform="translate(1108.00,557) scale(0.949,1)" text-anchor="middle">2026</text>
<text transform="translate(67.8,452.50) scale(0.949,1)" text-anchor="end">50</text>
<text transform="translate(67.8,346.50) scale(0.949,1)" text-anchor="end">100</text>
<text transform="translate(67.8,239.50) scale(0.949,1)" text-anchor="end">150</text>
<text transform="translate(67.8,132.50) scale(0.949,1)" text-anchor="end">200</text>
</g>
<text fill="#fff" font-size="19.4px" x="587.5" y="34.5" textLength="129.2" lengthAdjust="spacingAndGlyphs">년간 주가 추이</text>
<text fill="#fff" font-size="19.4px" y="34.5"><tspan x="499.2" textLength="56.4" lengthAdjust="spacingAndGlyphs">[CTAS]</tspan><tspan x="563.6" textLength="22.6" lengthAdjust="spacingAndGlyphs">10</tspan></text>
<text fill="#fff" font-size="16.67px" x="609" y="580.3" text-anchor="middle">날짜</text>
<g transform="translate(29.33,306.0) rotate(-90)"><text fill="#fff" font-size="16.67px" x="0.5" y="0" textLength="31.4" lengthAdjust="spacingAndGlyphs">종가</text></g>
<text fill="#008000" font-size="16.67px" x="128.8" y="516.8" textLength="48.8" lengthAdjust="spacingAndGlyphs">시작가</text>
<text fill="#008000" font-size="16.67px" y="516.8"><tspan x="177.6">:</tspan><tspan x="187.4" textLength="17.2" lengthAdjust="spacingAndGlyphs">23</tspan></text>
<text fill="#ffff00" font-size="16.67px" x="1090.4" y="142" textLength="48.4" lengthAdjust="spacingAndGlyphs">현재가</text>
<text fill="#ffff00" font-size="16.67px" y="142"><tspan x="1138.4">:</tspan><tspan x="1149.0" textLength="24.9" lengthAdjust="spacingAndGlyphs">191</tspan></text>
</g>
</svg>
</body></html>
